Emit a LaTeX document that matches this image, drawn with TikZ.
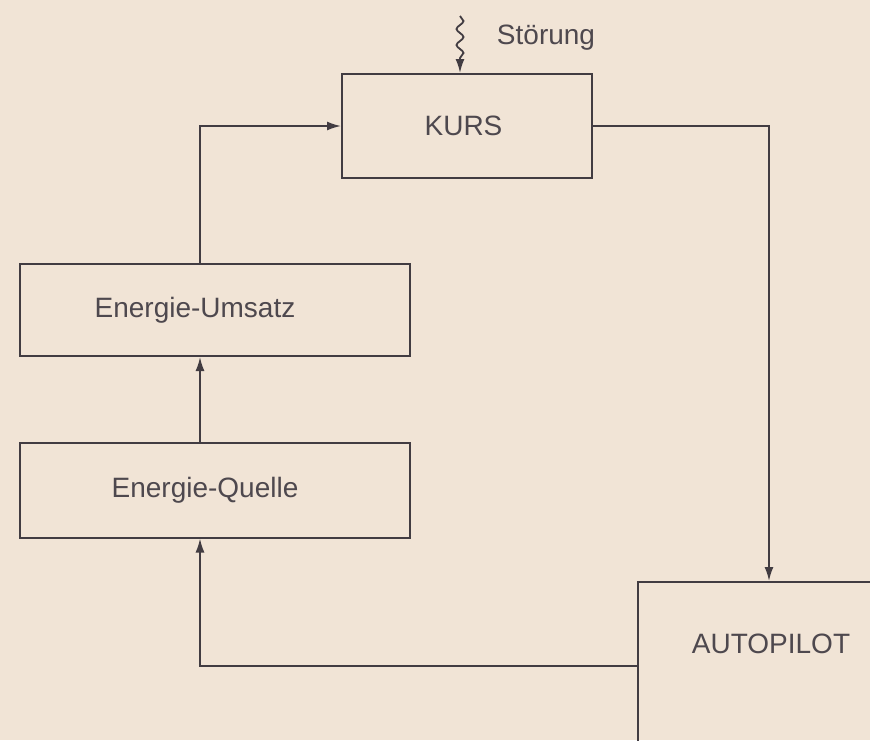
\documentclass[tikz,border=0pt]{standalone}
\usepackage{fontspec}
\setmainfont{Liberation Sans}
\usetikzlibrary{arrows.meta,decorations.pathmorphing}
\definecolor{paper}{RGB}{241,228,214}
\definecolor{ink}{RGB}{66,60,66}
\definecolor{inktext}{RGB}{78,72,78}

\begin{document}
\begin{tikzpicture}[x=1pt,y=-1pt,
  box/.style={draw=ink, line width=2pt, rectangle, inner sep=0pt},
  flow/.style={draw=ink, line width=1.8pt, -{Latex[length=14pt,width=9pt]}},
  every node/.style={text=inktext, font=\fontsize{28}{34}\selectfont},
  every label/.style={text=inktext, font=\fontsize{28}{34}\selectfont}]
\useasboundingbox (0,0) rectangle (870,740);
\fill[paper] (0,0) rectangle (870,740);
% blocks
\node[box, minimum width=250pt, minimum height=104pt] (kurs) at (467,126)
  {\hspace*{-7pt}KURS};
\node[box, minimum width=390pt, minimum height=92pt,
  label={[xshift=-20pt]center:Energie-Umsatz}] (umsatz) at (215,310) {};
\node[box, minimum width=390pt, minimum height=95pt,
  label={[xshift=-10pt]center:Energie-Quelle}] (quelle) at (215,490) {};
\node[box, minimum width=262pt, minimum height=168pt, anchor=north west,
  label={[xshift=2pt,yshift=22pt]center:AUTOPILOT}] (auto) at (637,581) {};
% disturbance
\coordinate (stoer) at (460,16);
\node (stoerlbl) at (546,38) {Störung};
\draw[flow, decorate, decoration={snake, amplitude=3.5pt, segment length=16pt, post length=12pt}]
  (stoer) -- (stoer |- kurs.north);
% loop
\draw[flow] (kurs.east) -| (auto.north);
\draw[flow] (auto.west) -| ([xshift=-15pt]quelle.south);
\draw[flow] ([xshift=-15pt]quelle.north) -- ([xshift=-15pt]umsatz.south);
\draw[flow] ([xshift=-15pt]umsatz.north) |- (kurs.west);
\end{tikzpicture}
\end{document}
